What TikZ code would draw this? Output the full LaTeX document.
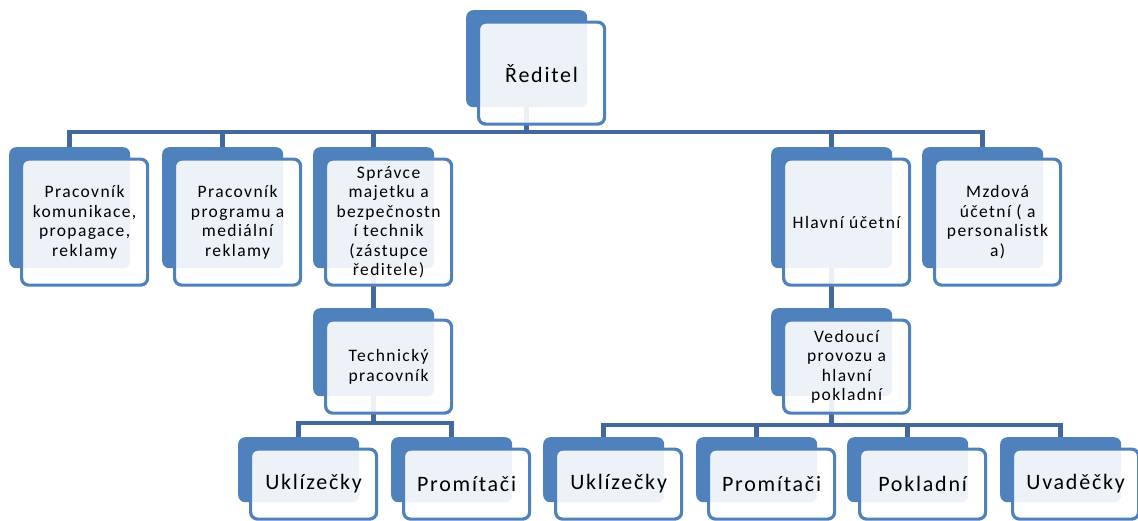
\documentclass[tikz,border=0pt]{standalone}
\usepackage{fontspec}
\setmainfont{Carlito}[LetterSpace=8]
\usetikzlibrary{backgrounds}
\definecolor{acc}{HTML}{4F81BD}
\definecolor{conncol}{HTML}{41699F}
\tikzset{
  backbox/.style={rectangle, rounded corners=7pt, fill=acc, draw=none, anchor=north west, inner sep=0pt},
  frontbox/.style={rectangle, rounded corners=7pt, draw=acc, line width=3.2pt, fill=white, fill opacity=0.9, text opacity=1, anchor=north west, align=center, inner sep=0pt, text=black},
  conn/.style={draw=conncol, line width=4.5pt, line join=miter},
  big/.style={font=\fontsize{22}{25}\selectfont},
  small/.style={font=\fontsize{17.5}{19.5}\selectfont},
}
\newcommand\orgbox[7]{%
  \node[backbox, minimum width=#4pt, minimum height=#5pt] (#1-b) at (#2,#3) {};
  \node[frontbox, #6, minimum width=#4pt+5pt, minimum height=#5pt+5pt] (#1) at (#2+11,#3+10.5) {#7};
}
\begin{document}
\begin{tikzpicture}[x=1pt,y=-1pt]
\useasboundingbox (0,0) rectangle (1138,520);
% top
\orgbox{r}{466}{10}{121}{97}{big}{Ředitel}
% row 2
\orgbox{a1}{9}{147}{121}{121}{small}{Pracovník\\komunikace,\\propagace,\\reklamy}
\orgbox{a2}{162}{147}{121}{121}{small}{Pracovník\\programu a\\mediální\\reklamy}
\orgbox{a3}{313}{147}{121}{121}{small}{Správce\\majetku a\\bezpečnostn\\í technik\\(zástupce\\ředitele)}
\orgbox{a4}{771}{147}{121}{121}{small}{Hlavní účetní}
\orgbox{a5}{922}{147}{121}{121}{small}{Mzdová\\účetní ( a\\personalistk\\a)}
% row 3
\orgbox{t}{313}{308}{121}{88}{small}{Technický\\pracovník}
\orgbox{v}{771}{308}{121}{88}{small}{Vedoucí\\provozu a\\hlavní\\pokladní}
% row 4
\orgbox{l1}{238}{437}{121}{65}{big}{Uklízečky}
\orgbox{l2}{391}{437}{121}{65}{big}{Promítači}
\orgbox{m1}{543}{437}{121}{65}{big}{Uklízečky}
\orgbox{m2}{696}{437}{121}{65}{big}{Promítači}
\orgbox{m3}{847}{437}{121}{65}{big}{Pokladní}
\orgbox{m4}{1000}{437}{121}{65}{big}{Uvaděčky}
% connectors
\begin{scope}[on background layer]
\coordinate (bar1) at (0,132);
\coordinate (bar2) at (0,423);
\coordinate (bar3) at (0,425);
\draw[conn] (r-b.center) -- (r-b.center |- bar1);
\draw[conn] (a1-b.center) -- (a1-b.center |- bar1) -- (a5-b.center |- bar1) -- (a5-b.center);
\draw[conn] (a2-b.center) -- (a2-b.center |- bar1);
\draw[conn] (a3-b.center) -- (a3-b.center |- bar1);
\draw[conn] (a4-b.center) -- (a4-b.center |- bar1);
\draw[conn] (a3-b.center) -- (t-b.center);
\draw[conn] (a4-b.center) -- (v-b.center);
\draw[conn] (t-b.center) -- (t-b.center |- bar2);
\draw[conn] (l1-b.center) -- (l1-b.center |- bar2) -- (l2-b.center |- bar2) -- (l2-b.center);
\draw[conn] (v-b.center) -- (v-b.center |- bar3);
\draw[conn] (m1-b.center) -- (m1-b.center |- bar3) -- (m4-b.center |- bar3) -- (m4-b.center);
\draw[conn] (m2-b.center) -- (m2-b.center |- bar3);
\draw[conn] (m3-b.center) -- (m3-b.center |- bar3);
\end{scope}
\end{tikzpicture}
\end{document}
